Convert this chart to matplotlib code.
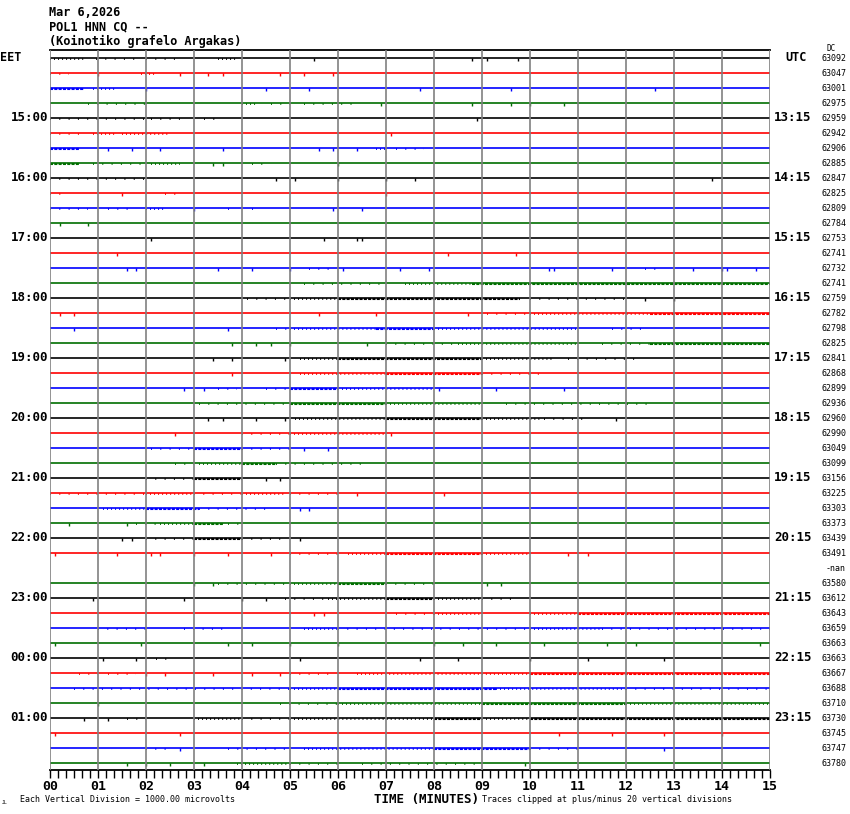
import matplotlib
matplotlib.use("Agg")
import matplotlib.pyplot as plt

plt.rcParams["lines.scale_dashes"] = False

# header text
title_lines = ["Mar 6,2026", "POL1 HNN CQ --", "(Koinotiko grafelo Argakas)"]

# hour labels, one for every 4th trace (15 minute lines)
eet_labels = ["EET", "15:00", "16:00", "17:00", "18:00", "19:00", "20:00",
              "21:00", "22:00", "23:00", "00:00", "01:00"]
utc_labels = ["UTC", "13:15", "14:15", "15:15", "16:15", "17:15", "18:15",
              "19:15", "20:15", "21:15", "22:15", "23:15"]

# DC offset printed at the right of each trace
dc_offsets = ["63092", "63047", "63001", "62975", "62959", "62942", "62906", "62885",
              "62847", "62825", "62809", "62784", "62753", "62741", "62732", "62741",
              "62759", "62782", "62798", "62825", "62841", "62868", "62899", "62936",
              "62960", "62990", "63049", "63099", "63156", "63225", "63303", "63373",
              "63439", "63491", "-nan", "63580", "63612", "63643", "63659", "63663",
              "63663", "63667", "63688", "63710", "63730", "63745", "63747", "63780"]

minute_labels = ["%02d" % m for m in range(16)]
trace_colors = ["black", "red", "blue", "#006e00"]

# noisy stretches on each trace: (start min, end min, level 1=sparse 2=moderate 3=dense)
bursts = [
    [(0, 0.7, 2), (0.95, 1.9, 1), (2.0, 2.7, 1), (3.5, 3.9, 2)],
    [(0, 0.4, 1), (1.9, 2.2, 2)],
    [(0, 0.7, 3), (0.9, 1.4, 2)],
    [(0.8, 2.1, 1), (4.0, 4.3, 2), (4.6, 5.0, 1), (5.3, 6.3, 1)],
    [(0, 2.0, 1), (2.1, 2.7, 1), (3.2, 3.5, 1)],
    [(0, 0.6, 1), (0.9, 1.4, 2), (1.5, 2.5, 2)],
    [(0, 0.6, 3), (6.8, 7.0, 2), (7.2, 7.8, 1)],
    [(0, 0.6, 3), (0.9, 1.9, 1), (2.1, 2.7, 2), (4.2, 4.5, 1)],
    [(0, 2.0, 1)],
    [(0, 0.3, 1), (2.4, 2.7, 1)],
    [(0, 0.8, 1), (1.2, 1.7, 1), (2.0, 2.4, 2), (3.7, 3.8, 2), (4.2, 4.3, 2)],
    [],
    [],
    [],
    [(5.4, 5.9, 1), (12.4, 12.7, 1)],
    [(5.3, 7.0, 1), (7.4, 8.8, 2), (8.8, 15, 3)],
    [(4.1, 5.0, 1), (5.0, 6.0, 2), (6.0, 9.8, 3), (10.0, 12.0, 1)],
    [(9.1, 10.0, 1), (10.0, 12.5, 2), (12.5, 15, 3)],
    [(4.7, 5.0, 1), (5.0, 6.8, 2), (6.8, 8.0, 3), (8.0, 11.0, 2), (11.7, 12.4, 1)],
    [(7.0, 8.5, 1), (8.5, 11.0, 2), (11.5, 12.5, 1), (12.5, 15, 3)],
    [(5.2, 6.0, 2), (6.0, 9.0, 3), (9.0, 10.5, 2), (10.8, 12.3, 1)],
    [(5.2, 7.0, 2), (7.0, 9.0, 3), (9.0, 10.3, 1)],
    [(3.5, 3.9, 1), (4.5, 5.0, 1), (5.0, 6.0, 3), (6.0, 8.0, 2)],
    [(3.1, 5.0, 1), (5.0, 7.0, 3), (7.0, 9.0, 2), (9.5, 12.5, 1)],
    [(5.1, 7.0, 2), (7.0, 9.0, 3), (9.0, 10.2, 2), (10.3, 11.2, 1)],
    [(4.0, 5.0, 1), (5.0, 7.0, 2)],
    [(2.1, 3.0, 1), (3.0, 4.0, 3), (4.0, 5.0, 1)],
    [(2.6, 3.0, 1), (3.1, 4.0, 2), (4.0, 4.7, 3), (4.7, 6.6, 1)],
    [(2.0, 3.0, 1), (3.0, 4.0, 3)],
    [(0, 2.0, 1), (2.0, 3.0, 2), (3.0, 4.0, 1), (4.0, 4.9, 2), (5.0, 6.0, 1)],
    [(1.1, 2.0, 2), (2.0, 3.1, 3), (3.1, 4.6, 1)],
    [(1.8, 2.3, 1), (2.3, 3.0, 2), (3.0, 3.6, 3), (3.7, 4.0, 1)],
    [(2.0, 3.0, 1), (3.0, 4.0, 3), (4.0, 4.9, 1)],
    [(5.0, 6.0, 1), (6.2, 7.0, 2), (7.0, 9.0, 3), (9.0, 10.0, 2)],
    None,  # -nan, no trace
    [(3.5, 5.0, 1), (5.0, 6.0, 2), (6.0, 7.0, 3), (7.0, 8.0, 1)],
    [(4.9, 5.7, 1), (5.8, 7.0, 2), (7.0, 8.0, 3), (8.0, 9.0, 2), (9.0, 9.7, 1)],
    [(7.2, 8.0, 1), (8.0, 9.0, 2), (10.0, 11.0, 2), (11.0, 15, 3)],
    [(1.0, 2.0, 1), (2.8, 3.6, 1), (5.3, 6.0, 2), (6.0, 10.0, 1), (10.0, 11.5, 2), (11.5, 15, 1)],
    [],
    [(2.2, 2.5, 1)],
    [(0.6, 1.0, 1), (1.2, 1.8, 1), (5.0, 5.9, 1), (6.4, 10.0, 2), (10.0, 15, 3)],
    [(0.5, 5.0, 1), (5.0, 6.0, 2), (6.0, 9.3, 3), (9.3, 12.0, 2), (12.0, 15, 1)],
    [(4.8, 6.0, 1), (6.0, 9.0, 2), (9.0, 12.0, 3), (12.0, 15, 2)],
    [(1.6, 2.0, 1), (3.0, 4.0, 2), (4.0, 5.0, 1), (5.0, 8.0, 2), (8.0, 9.0, 3), (9.0, 10.0, 2), (10.0, 15, 3)],
    [],
    [(2.0, 2.5, 1), (3.7, 5.0, 1), (5.3, 8.0, 2), (8.0, 10.0, 3), (10.0, 11.0, 1)],
    [(3.9, 5.0, 2), (5.0, 6.0, 1), (6.5, 9.0, 1)],
]

# isolated spikes (minutes)
spikes = [
    [5.5, 8.8, 9.1, 9.75],
    [1.0, 2.7, 3.3, 3.6, 4.8, 5.3, 5.9],
    [2.0, 4.5, 5.4, 7.7, 9.6, 12.6],
    [6.9, 8.8, 9.6, 10.0, 10.7],
    [8.9],
    [7.1],
    [1.2, 1.7, 2.3, 3.6, 5.6, 5.9, 6.4],
    [3.4, 3.6, 6.0],
    [4.7, 5.1, 6.0, 7.0, 7.6, 13.8],
    [1.5, 7.0],
    [3.0, 5.9, 6.5],
    [0.2, 0.8],
    [2.1, 5.7, 6.4, 6.5],
    [1.4, 8.3, 9.7],
    [1.6, 1.8, 3.5, 4.2, 5.0, 6.1, 7.3, 7.9, 10.4, 10.5, 11.7, 13.4, 14.0, 14.1, 14.7],
    [],
    [12.4, 13.0],
    [0.2, 0.5, 5.6, 6.8, 8.7],
    [0.5, 3.7],
    [3.8, 4.3, 4.6, 5.0, 6.6],
    [3.4, 3.8, 4.9],
    [3.8],
    [2.8, 3.2, 8.1, 9.3, 10.7],
    [],
    [3.3, 3.6, 4.3, 4.9, 11.8],
    [2.6, 7.1],
    [5.3, 5.8],
    [],
    [4.5, 4.8],
    [6.4, 8.2],
    [5.2, 5.4],
    [0.4, 1.6],
    [1.5, 1.7, 5.2],
    [0.1, 1.4, 2.1, 2.3, 3.0, 3.7, 4.6, 10.8, 11.2],
    [],
    [3.0, 3.4, 9.1, 9.4],
    [0.9, 2.8, 4.0, 4.5],
    [5.5, 5.7],
    [],
    [0.1, 1.9, 3.7, 4.2, 5.0, 6.0, 8.0, 8.6, 9.3, 10.3, 11.6, 12.2, 14.8],
    [1.1, 1.8, 5.2, 7.7, 8.5, 10.0, 11.2, 12.8],
    [2.0, 2.4, 3.4, 4.2, 4.8],
    [],
    [1.0],
    [0.7, 1.2],
    [0.1, 2.7, 10.6, 11.7, 12.8, 14.0],
    [2.7, 12.8],
    [1.6, 2.0, 2.5, 3.2, 9.9],
]

W, H = 850, 814
fig = plt.figure(figsize=(W / 100, H / 100), dpi=100)
fig.patch.set_facecolor("white")
ax = fig.add_axes([50 / W, 44 / H, 720 / W, 720 / H])

n = len(dc_offsets)
ax.set_xlim(0, 15)
ax.set_ylim(n - 0.5, -0.5)

mono = "DejaVu Sans Mono"
level_style = {
    1: dict(lw=1.3, linestyles=[(0, (0.7, 6.0))]),
    2: dict(lw=1.3, linestyles=[(0, (0.7, 2.2))]),
    3: dict(lw=1.5, linestyles=[(0, (2.2, 0.9))]),
}

for i in range(n):
    c = trace_colors[i % 4]
    if bursts[i] is None:
        continue
    ax.hlines(i, 0, 15, color=c, lw=1.2, zorder=2)
    for s, e, lev in bursts[i]:
        ax.hlines(i + 0.09, s, e, color=c, zorder=2, **level_style[lev])
    if spikes[i]:
        ax.vlines(spikes[i], i, i + 0.2, color=c, lw=1.0, zorder=2)

# minute grid
ax.vlines(range(16), -0.5, n - 0.5, color="#808080", lw=1.2, zorder=3)

for side in ["left", "right"]:
    ax.spines[side].set_visible(False)
ax.spines["top"].set_linewidth(1.3)
ax.spines["bottom"].set_linewidth(1.3)
ax.set_yticks([])
ax.set_xticks(range(16))
ax.set_xticklabels(minute_labels, fontfamily=mono, fontweight="bold", fontsize=9.5)
ax.set_xticks([k / 6 for k in range(91)], minor=True)
ax.tick_params(axis="x", which="both", direction="out", length=5.5, width=1.0, pad=1.5)


def fx(x):
    return x / W


def fy(y):
    return 1 - y / H


for k, line in enumerate(title_lines):
    fig.text(fx(49), fy(12 + 14.5 * k), line, fontfamily=mono, fontweight="bold",
             fontsize=8.6, va="center", ha="left")

for k in range(len(eet_labels)):
    yy = 57.5 + 15 * 4 * k
    if k == 0:
        fig.text(fx(0), fy(yy), eet_labels[k], fontfamily=mono, fontweight="bold",
                 fontsize=8.5, va="center", ha="left")
        fig.text(fx(785), fy(yy), utc_labels[k], fontfamily=mono, fontweight="bold",
                 fontsize=8.5, va="center", ha="left")
    else:
        fig.text(fx(48), fy(yy), eet_labels[k], fontfamily=mono, fontweight="bold",
                 fontsize=9, va="center", ha="right")
        fig.text(fx(774), fy(yy), utc_labels[k], fontfamily=mono, fontweight="bold",
                 fontsize=9, va="center", ha="left")

for i, v in enumerate(dc_offsets):
    fig.text(fx(846), fy(58.5 + 15 * i), v, fontfamily=mono, fontsize=6,
             va="center", ha="right")
fig.text(fx(831), fy(48.5), "DC", fontfamily=mono, fontsize=5.5, va="center", ha="center")

fig.text(fx(426), fy(799), "TIME (MINUTES)", fontfamily=mono, fontweight="bold",
         fontsize=9, va="center", ha="center")
fig.text(fx(20), fy(800), "Each Vertical Division = 1000.00 microvolts",
         fontfamily=mono, fontsize=6, va="center", ha="left")
fig.text(fx(482), fy(800), "Traces clipped at plus/minus 20 vertical divisions",
         fontfamily=mono, fontsize=6, va="center", ha="left")
fig.text(fx(2), fy(802), "JL", fontfamily=mono, fontsize=3.5, va="center", ha="left")

fig.savefig("out.png", dpi=100, facecolor="white")
